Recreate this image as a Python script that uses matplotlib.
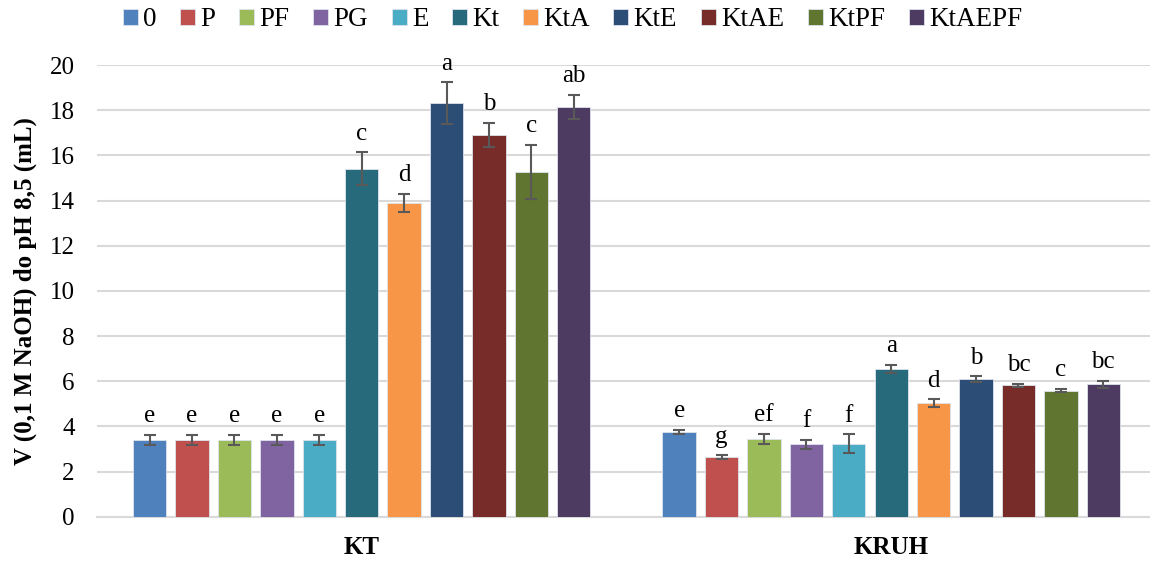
import matplotlib
matplotlib.use("Agg")
import matplotlib.pyplot as plt
import numpy as np

plt.rcParams['font.family'] = ['Liberation Serif', 'DejaVu Serif']

groups = ["KT", "KRUH"]
series = ["0", "P", "PF", "PG", "E", "Kt", "KtA", "KtE", "KtAE", "KtPF", "KtAEPF"]
colors = ["#4F81BD", "#C0504D", "#9BBB59", "#8064A2", "#4BACC6", "#276A7C",
          "#F79646", "#2C4D75", "#772C2A", "#5F7530", "#4D3B62"]

# values per series: [KT, KRUH]
values = [
    [3.40, 3.76],
    [3.40, 2.64],
    [3.40, 3.44],
    [3.40, 3.20],
    [3.40, 3.24],
    [15.40, 6.55],
    [13.90, 5.03],
    [18.30, 6.09],
    [16.92, 5.81],
    [15.27, 5.58],
    [18.16, 5.86],
]
errors = [
    [0.22, 0.08],
    [0.22, 0.08],
    [0.22, 0.23],
    [0.22, 0.20],
    [0.22, 0.41],
    [0.73, 0.18],
    [0.40, 0.18],
    [0.93, 0.14],
    [0.53, 0.08],
    [1.20, 0.08],
    [0.53, 0.17],
]
letters = [
    ["e", "e"],
    ["e", "g"],
    ["e", "ef"],
    ["e", "f"],
    ["e", "f"],
    ["c", "a"],
    ["d", "d"],
    ["a", "b"],
    ["b", "bc"],
    ["c", "c"],
    ["ab", "bc"],
]

fig = plt.figure(figsize=(11.5, 5.62), dpi=100)
ax = fig.add_axes([0.0843, 0.0806, 0.9209, 0.8037])

x = np.arange(len(groups))
slot = 0.0801
width = 0.0629
n = len(series)

for i, name in enumerate(series):
    pos = x + (i - (n - 1) / 2) * slot
    ax.bar(pos, values[i], width, color=colors[i], edgecolor="#DDE3EC",
           linewidth=0.6, label=name, zorder=3)
    ax.errorbar(pos, values[i], yerr=errors[i], fmt="none", ecolor="#595959",
                elinewidth=1.5, capsize=4.5, capthick=1.5, zorder=4)
    for j in range(len(groups)):
        ax.annotate(letters[i][j], (pos[j], values[i][j] + errors[i][j]),
                    xytext=(0, 9), textcoords="offset points",
                    ha="center", va="baseline", fontsize=18)

ax.set_xlim(-0.5, 1.5)
ax.set_ylim(0, 20)
ax.set_yticks(range(0, 21, 2))
ax.set_xticks(x)
ax.set_xticklabels(groups, fontsize=18, fontweight="bold")
ax.tick_params(axis="y", labelsize=18, length=0, pad=16)
ax.tick_params(axis="x", length=0, pad=14)
ax.grid(axis="y", color="#D9D9D9", linewidth=1.5, zorder=0)
ax.set_axisbelow(True)
for s in ["top", "right", "left"]:
    ax.spines[s].set_visible(False)
ax.spines["bottom"].set_color("#D9D9D9")
ax.spines["bottom"].set_linewidth(1.5)
ax.set_ylabel("V (0,1 M NaOH) do pH 8,5 (mL)", fontsize=18, fontweight="bold")
ax.yaxis.set_label_coords(-0.057, 0.5)

fig.legend(loc="center left", bbox_to_anchor=(123 / 1150, 1 - 20 / 562), ncol=n,
           frameon=False, fontsize=19.5, handlelength=0.55, handleheight=0.55,
           handletextpad=0.2, columnspacing=0.87, borderaxespad=0, borderpad=0)

fig.savefig("out.png", dpi=100)
